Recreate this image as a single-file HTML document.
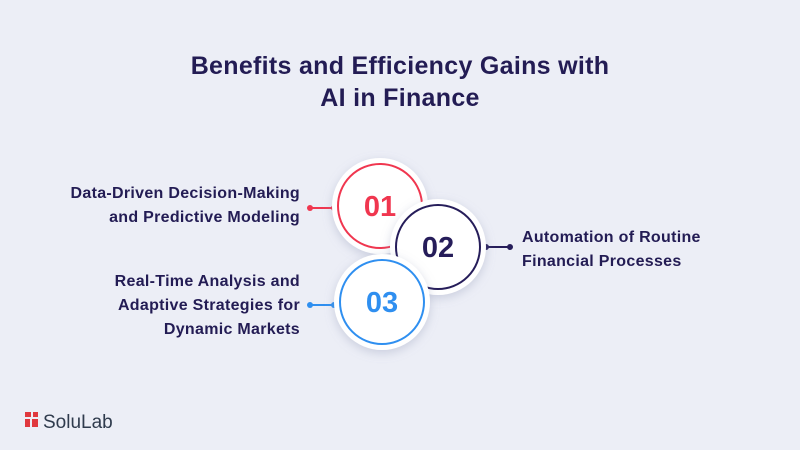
<!DOCTYPE html>
<html><head><style>
body{margin:0;width:800px;height:450px;background:#eceef6;font-family:"Liberation Sans",sans-serif;position:relative;overflow:hidden}
.t{position:absolute;left:0;width:800px;top:50px;text-align:center;font-weight:bold;font-size:25px;line-height:32px;color:#231c54;letter-spacing:0.3px}
.l{position:absolute;font-weight:bold;font-size:16px;line-height:24px;color:#231c54;letter-spacing:0.3px}
</style></head><body>
<div class="t">Benefits and Efficiency Gains with<br>AI in Finance</div>
<div class="l" style="right:500px;top:182px;text-align:right">Data-Driven Decision-Making<br>and Predictive Modeling</div>
<div class="l" style="left:522px;top:226px">Automation of Routine<br>Financial Processes</div>
<div class="l" style="right:500px;top:270px;text-align:right">Real-Time Analysis and<br>Adaptive Strategies for<br>Dynamic Markets</div>
<svg width="800" height="450" style="position:absolute;left:0;top:0">
<defs><filter id="s" x="-30%" y="-30%" width="160%" height="160%"><feDropShadow dx="0" dy="3" stdDeviation="5" flood-color="#8890b0" flood-opacity="0.35"/></filter></defs>
<g stroke-width="2">
<line x1="310" y1="208" x2="335" y2="208" stroke="#f0364f"/><circle cx="310" cy="208" r="3" fill="#f0364f"/><circle cx="334" cy="208" r="3" fill="#f0364f"/>
<line x1="485" y1="247" x2="510" y2="247" stroke="#261d5a"/><circle cx="486" cy="247" r="3" fill="#261d5a"/><circle cx="510" cy="247" r="3" fill="#261d5a"/>
<line x1="310" y1="305" x2="335" y2="305" stroke="#2f8ff0"/><circle cx="310" cy="305" r="3" fill="#2f8ff0"/><circle cx="334" cy="305" r="3" fill="#2f8ff0"/>
</g>
<g font-family="Liberation Sans" font-weight="bold" font-size="29" text-anchor="middle">
<circle cx="380" cy="206" r="48" fill="#fff" filter="url(#s)"/><circle cx="380" cy="206" r="42" fill="none" stroke="#f0364f" stroke-width="2"/>
<text x="380" y="216" fill="#f0364f">01</text>
<circle cx="438" cy="247" r="48" fill="#fff" filter="url(#s)"/><circle cx="438" cy="247" r="42" fill="none" stroke="#261d5a" stroke-width="2"/>
<text x="438" y="257" fill="#261d5a">02</text>
<circle cx="382" cy="302" r="48" fill="#fff" filter="url(#s)"/><circle cx="382" cy="302" r="42" fill="none" stroke="#2f8ff0" stroke-width="2"/>
<text x="382" y="312" fill="#2f8ff0">03</text>
</g>
<g fill="#e0383e"><rect x="25" y="412" width="6" height="5"/><rect x="33" y="412" width="5" height="5"/><rect x="25" y="419" width="5" height="8"/><rect x="32" y="419" width="6" height="8"/></g>
<text x="43" y="428" font-family="Liberation Sans" font-size="19" fill="#2f3b4d">SoluLab</text>
</svg>
</body></html>
